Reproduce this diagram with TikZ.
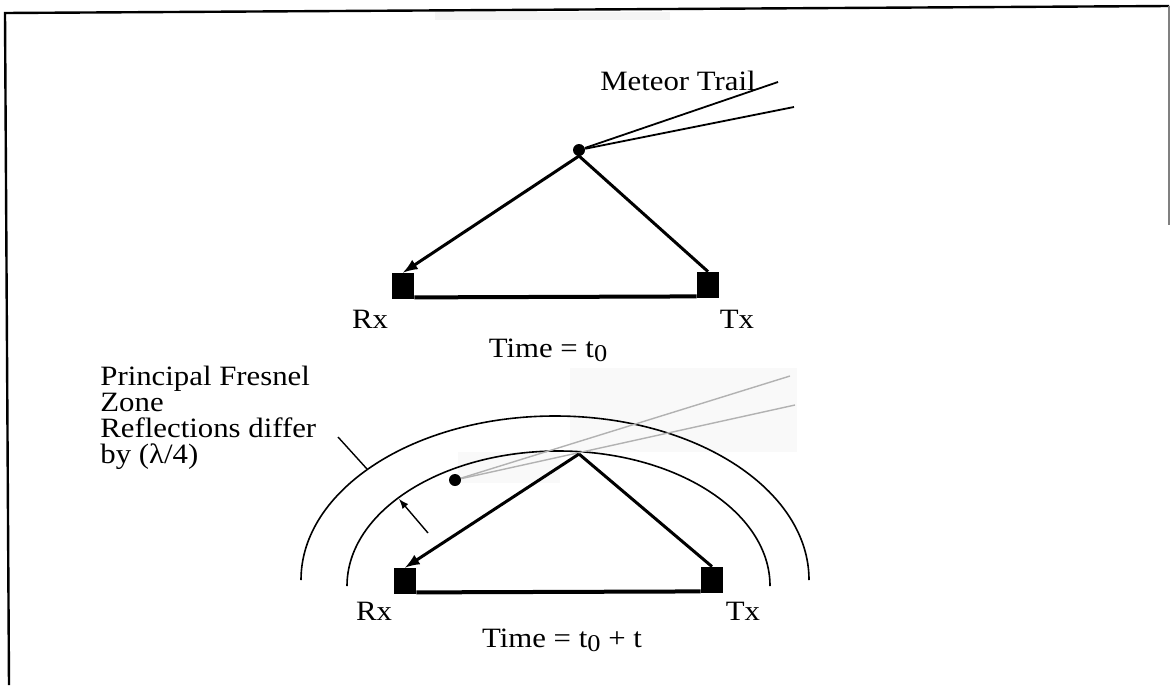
\documentclass[tikz,border=0pt]{standalone}
\usepackage{fontspec}
\setmainfont{Liberation Serif}[FakeStretch=1.1]
\tikzset{
  ray/.style={line width=1.5pt},
  station/.style={fill=black,minimum width=11pt,minimum height=13pt,inner sep=0pt},
  meteor/.style={circle,fill=black,minimum size=6pt,inner sep=0pt},
  lbl/.style={font=\fontsize{14}{12.9}\selectfont,inner sep=0pt},
  zone/.style={line width=0.8pt}
}
\newcommand{\tnull}{t\raisebox{-0.35ex}{\fontsize{12}{12}\selectfont 0}}
\begin{document}
\begin{tikzpicture}[x=0.5pt,y=-0.5pt,>=latex]
\useasboundingbox (0,0) rectangle (1171,685);
% frame of the scan
\draw[line width=1.2pt] (9,685) -- (5,13) -- (1169,6);
\draw[line width=1pt,gray] (1169,6) -- (1169,225);
\fill[gray!8] (435,12) rectangle (670,20);
\fill[gray!5] (570,368) rectangle (797,452);
\fill[gray!5] (458,452) rectangle (560,483);

% Time = t0
\node[meteor] (meteor0) at (579,150) {};
\coordinate (apex0) at (579,156);
\coordinate (trail0a) at (778,82);
\coordinate (trail0b) at (794,107);
\node[station] (rx0) at (403,286) {};
\node[station] (tx0) at (708,285) {};
\draw[line width=0.9pt] (meteor0) -- (trail0a);
\draw[line width=0.9pt] (meteor0) -- (trail0b);
\draw[ray,->] (apex0) -- (rx0.north);
\draw[ray] (apex0) -- (tx0.north);
\draw[line width=2pt] ([yshift=1pt]rx0.south east) -- ([yshift=1pt]tx0.south west);
\node[lbl,anchor=base] (trailtxt) at (678,90) {Meteor Trail};
\node[lbl,anchor=base] (rxtxt0) at (370,328) {Rx};
\node[lbl,anchor=base] (txtxt0) at (737,328) {Tx};
\node[lbl,anchor=base] (time0) at (548,357) {Time = \tnull};

% Time = t0 + t
\draw[zone] (301,580) arc[start angle=180,end angle=0,x radius=127pt,y radius=82pt];
\draw[zone] (347,586) arc[start angle=180,end angle=0,x radius=105.75pt,y radius=67.5pt];
\node[meteor] (meteor1) at (455,480) {};
\coordinate (apex1) at (579,454);
\coordinate (trail1a) at (790,376);
\coordinate (trail1b) at (795,405);
\node[station] (rx1) at (405,581) {};
\node[station] (tx1) at (712,580) {};
\draw[line width=0.7pt,gray!60] (meteor1) -- (trail1a);
\draw[line width=0.7pt,gray!60] (meteor1) -- (trail1b);
\draw[ray,->] (apex1) -- (rx1.north);
\draw[ray] (apex1) -- (tx1.north);
\draw[line width=2pt] ([yshift=1pt]rx1.south east) -- ([yshift=1pt]tx1.south west);
\node[lbl,anchor=north west,align=left] (fresnel) at (100,366)
  {Principal Fresnel\\Zone\\Reflections differ\\by (λ/4)};
\coordinate (ptr0) at (338,437);
\coordinate (ptr1) at (367,469);
\draw[line width=0.7pt] (ptr0) -- (ptr1);
\coordinate (gap0) at (428,533);
\coordinate (gap1) at (399,499);
\draw[line width=0.7pt,->] (gap0) -- (gap1);
\node[lbl,anchor=base] (rxtxt1) at (374,620) {Rx};
\node[lbl,anchor=base] (txtxt1) at (743,620) {Tx};
\node[lbl,anchor=base] (time1) at (562,647) {Time = \tnull{} + t};
\end{tikzpicture}
\end{document}
